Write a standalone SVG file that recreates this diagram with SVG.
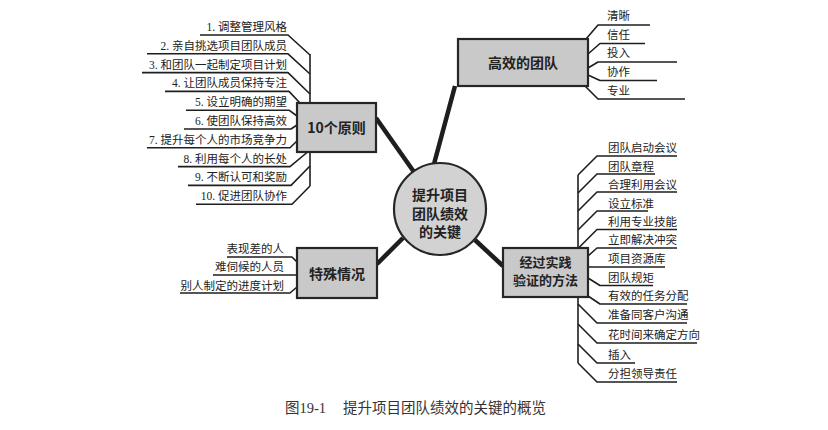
<svg xmlns="http://www.w3.org/2000/svg" width="828" height="430" viewBox="0 0 828 430">
<style>
.bg{fill:#ffffff}
.line{fill:none;stroke:#1e1e1e;stroke-width:1.6;stroke-linejoin:round}
.main{fill:none;stroke:#1e1e1e;stroke-width:4.5;stroke-linecap:butt}
.box{fill:#c9c9c9;stroke:#262626;stroke-width:2.2}
.circ{fill:#d2d2d2;stroke:#262626;stroke-width:2.2}
.bt{font-family:"Noto Sans CJK SC","Noto Sans",sans-serif;font-weight:700;font-size:14px;fill:#222;text-anchor:middle}
.sm{font-size:13px}
.lt{font-family:"Liberation Serif","Noto Sans CJK SC",serif;font-size:11.5px;fill:#222}
.end{text-anchor:end}
.cap{font-family:"Liberation Serif","Noto Sans CJK SC",serif;font-size:14.5px;fill:#333}
</style>
<rect class="bg" x="0" y="0" width="828" height="430"/>
<g id="connectors">
  <path class="main" d="M376,118 L414,172"/>
  <path class="main" d="M455,86 L434,164"/>
  <path class="main" d="M403,238 L377,264"/>
  <path class="main" d="M475,240 L503,266"/>
  <path class="line" d="M200,35 H288 L310,55"/>
  <path class="line" d="M147,53.8 H288 L310,74"/>
  <path class="line" d="M142,72.6 H288 L310,94"/>
  <path class="line" d="M165,91.4 H289 L300,103"/>
  <path class="line" d="M310,54 V103"/>
  <path class="line" d="M186,110.2 H289 L297,116"/>
  <path class="line" d="M184,129 H291 L297,125"/>
  <path class="line" d="M147,147.8 H290 L297,141"/>
  <path class="line" d="M178,166.6 H290 L310,150"/>
  <path class="line" d="M188,185.4 H291 L310,166"/>
  <path class="line" d="M196,204.2 H292 L310,186"/>
  <path class="line" d="M310,152 V186"/>
  <path class="line" d="M650,25 H598 L586,39"/>
  <path class="line" d="M645,43.5 H600 L588,54"/>
  <path class="line" d="M677,62 H598 L588,68"/>
  <path class="line" d="M657,80.5 H600 L588,75"/>
  <path class="line" d="M685,99 H598 L585,86"/>
  <path class="line" d="M677,156 H597 L578,175"/>
  <path class="line" d="M655,174 H597 L578,193"/>
  <path class="line" d="M677,192 H597 L578,211"/>
  <path class="line" d="M648,211 H597 L578,230"/>
  <path class="line" d="M677,229.5 H597 L578,248.5"/>
  <path class="line" d="M578,175 V248"/>
  <path class="line" d="M677,248 H597 L588,256"/>
  <path class="line" d="M665,267 H588"/>
  <path class="line" d="M653,285.5 H600 L588,278"/>
  <path class="line" d="M687,304 H600 L588,296"/>
  <path class="line" d="M687,323 H597 L578,304"/>
  <path class="line" d="M697,343 H597 L578,324"/>
  <path class="line" d="M635,363 H597 L578,344"/>
  <path class="line" d="M677,382 H597 L578,363"/>
  <path class="line" d="M578,297 V363"/>
  <path class="line" d="M227,257 H292 L298,263"/>
  <path class="line" d="M213,275 H297"/>
  <path class="line" d="M180,293 H290 L297,287"/>
</g>
<g id="center">
  <circle class="circ" cx="440" cy="209" r="46"/>
  <text class="bt" x="440" y="200">提升项目</text>
  <text class="bt" x="440" y="218.5">团队绩效</text>
  <text class="bt" x="440" y="237">的关键</text>
</g>
<g id="principles">
  <rect class="box" x="297" y="103" width="79" height="49"/>
  <text class="bt" x="336.5" y="133">10个原则</text>
</g>
<g id="efficient-team">
  <rect class="box" x="458" y="39" width="130" height="47"/>
  <text class="bt" x="523" y="68">高效的团队</text>
</g>
<g id="special">
  <rect class="box" x="297" y="248" width="80" height="50"/>
  <text class="bt" x="337" y="278.5">特殊情况</text>
</g>
<g id="proven">
  <rect class="box" x="503" y="248" width="85" height="49"/>
  <text class="bt sm" x="545.5" y="266.5">经过实践</text>
  <text class="bt sm" x="545.5" y="285">验证的方法</text>
</g>
<g id="principle-items">
  <text class="lt end" x="287" y="31">1. 调整管理风格</text>
  <text class="lt end" x="287" y="49.8">2. 亲自挑选项目团队成员</text>
  <text class="lt end" x="287" y="68.6">3. 和团队一起制定项目计划</text>
  <text class="lt end" x="287" y="87.4">4. 让团队成员保持专注</text>
  <text class="lt end" x="287" y="106.2">5. 设立明确的期望</text>
  <text class="lt end" x="287" y="125">6. 使团队保持高效</text>
  <text class="lt end" x="287" y="143.8">7. 提升每个人的市场竞争力</text>
  <text class="lt end" x="287" y="162.6">8. 利用每个人的长处</text>
  <text class="lt end" x="287" y="181.4">9. 不断认可和奖励</text>
  <text class="lt end" x="287" y="200.2">10. 促进团队协作</text>
</g>
<g id="team-items">
  <text class="lt" x="607" y="20">清晰</text>
  <text class="lt" x="607" y="38.5">信任</text>
  <text class="lt" x="607" y="57">投入</text>
  <text class="lt" x="607" y="76">协作</text>
  <text class="lt" x="607" y="94.5">专业</text>
</g>
<g id="proven-items">
  <text class="lt" x="608" y="152">团队启动会议</text>
  <text class="lt" x="608" y="170.5">团队章程</text>
  <text class="lt" x="608" y="188.5">合理利用会议</text>
  <text class="lt" x="608" y="207.5">设立标准</text>
  <text class="lt" x="608" y="225.5">利用专业技能</text>
  <text class="lt" x="608" y="244">立即解决冲突</text>
  <text class="lt" x="608" y="263">项目资源库</text>
  <text class="lt" x="608" y="281.5">团队规矩</text>
  <text class="lt" x="608" y="300">有效的任务分配</text>
  <text class="lt" x="608" y="319">准备同客户沟通</text>
  <text class="lt" x="608" y="339">花时间来确定方向</text>
  <text class="lt" x="608" y="359">插入</text>
  <text class="lt" x="608" y="378">分担领导责任</text>
</g>
<g id="special-items">
  <text class="lt end" x="284" y="252.5">表现差的人</text>
  <text class="lt end" x="284" y="271">难伺候的人员</text>
  <text class="lt end" x="284" y="289.5">别人制定的进度计划</text>
</g>
<g id="caption">
  <text class="cap" x="285" y="413">图19-1</text>
  <text class="cap" x="343" y="413">提升项目团队绩效的关键的概览</text>
</g>
</svg>
